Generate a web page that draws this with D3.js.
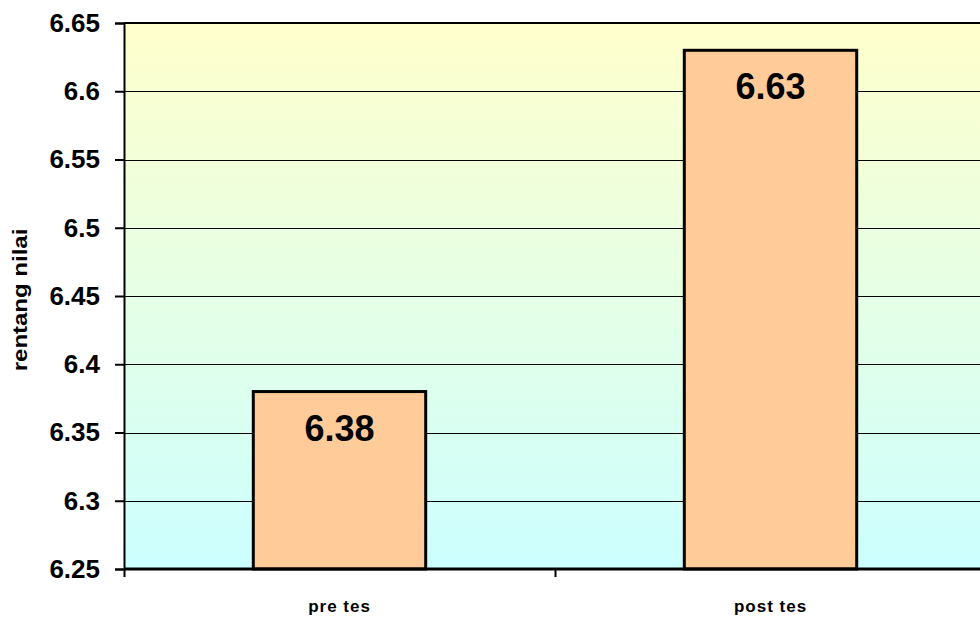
<!DOCTYPE html>
<html>
<head>
<meta charset="utf-8">
<script src="https://cdn.jsdelivr.net/npm/d3@7"></script>
<style>
html,body{margin:0;padding:0;background:#fff;}
svg{display:block;}
text{font-family:Arial,"Liberation Sans",sans-serif;font-weight:bold;fill:#000;}
</style>
</head>
<body>
<svg id="chart" width="980" height="618"></svg>
<script>
const categories = ["pre tes", "post tes"];
const values = [6.38, 6.63];
const valueLabels = ["6.38", "6.63"];
const yTicks = [6.25, 6.3, 6.35, 6.4, 6.45, 6.5, 6.55, 6.6, 6.65];
const yTickLabels = ["6.25", "6.3", "6.35", "6.4", "6.45", "6.5", "6.55", "6.6", "6.65"];
const yTitle = "rentang nilai";

const svg = d3.select("#chart");
const pLeft = 124, pRight = 986, pTop = 23, pBottom = 569;

const x = d3.scaleBand().domain(categories).range([pLeft, pRight]).paddingInner(0.6).paddingOuter(0.3);
const xCat = d3.scaleBand().domain(categories).range([pLeft, pRight]).padding(0);
const y = d3.scaleLinear().domain([6.25, 6.65]).range([pBottom, pTop]);

const defs = svg.append("defs");
const grad = defs.append("linearGradient").attr("id", "bg").attr("x1", 0).attr("y1", 0).attr("x2", 0).attr("y2", 1);
grad.append("stop").attr("offset", "0%").attr("stop-color", "#FFFFCC");
grad.append("stop").attr("offset", "100%").attr("stop-color", "#CCFFFF");

svg.append("rect").attr("x", pLeft).attr("y", pTop).attr("width", pRight - pLeft).attr("height", pBottom - pTop).attr("fill", "url(#bg)");

// gridlines
svg.append("g").selectAll("line").data(yTicks).join("line")
  .attr("x1", pLeft).attr("x2", pRight)
  .attr("y1", d => Math.round(y(d)) + 0.5).attr("y2", d => Math.round(y(d)) + 0.5)
  .attr("stroke", "#000").attr("stroke-width", 1);

// top line slightly heavier
svg.append("line").attr("x1", pLeft).attr("x2", pRight).attr("y1", pTop).attr("y2", pTop).attr("stroke", "#000").attr("stroke-width", 2);

// y axis
const yAxis = d3.axisLeft(y).tickValues(yTicks).tickFormat((d, i) => yTickLabels[i]).tickSize(9).tickPadding(15);
const gy = svg.append("g").attr("transform", `translate(${pLeft},0)`).call(yAxis);
gy.select(".domain").attr("stroke", "#000").attr("stroke-width", 2);
gy.selectAll(".tick line").attr("stroke", "#000").attr("stroke-width", 2);
gy.selectAll(".tick text").style("font-size", "26px").style("font-family", "Arial, 'Liberation Sans', sans-serif").style("font-weight", "bold").attr("fill", "#000");

// bars
svg.append("g").selectAll("rect").data(values).join("rect")
  .attr("x", (d, i) => x(categories[i]))
  .attr("y", d => y(d))
  .attr("width", x.bandwidth())
  .attr("height", d => y(6.25) - y(d))
  .attr("fill", "#FFCC99").attr("stroke", "#000").attr("stroke-width", 3);

// value labels
svg.append("g").selectAll("text").data(values).join("text")
  .attr("x", (d, i) => x(categories[i]) + x.bandwidth() / 2)
  .attr("y", d => y(d) + 49)
  .attr("text-anchor", "middle")
  .style("font-size", "36px")
  .text((d, i) => valueLabels[i]);

// x axis
const gx = svg.append("g").attr("transform", `translate(0,${pBottom})`);
gx.append("line").attr("x1", pLeft).attr("x2", pRight).attr("y1", 0).attr("y2", 0).attr("stroke", "#000").attr("stroke-width", 3);
gx.selectAll("line.tk").data(categories).join("line").attr("class", "tk")
  .attr("x1", d => xCat(d) + 0.5).attr("x2", d => xCat(d) + 0.5).attr("y1", 0).attr("y2", 8)
  .attr("stroke", "#000").attr("stroke-width", 2);
gx.selectAll("text").data(categories).join("text")
  .attr("x", d => xCat(d) + xCat.bandwidth() / 2)
  .attr("y", 43)
  .attr("text-anchor", "middle")
  .style("font-size", "17px")
  .style("letter-spacing", "1px")
  .text(d => d);

// y title
svg.append("text")
  .attr("transform", `translate(27,300) rotate(-90) scale(1.2,1)`)
  .attr("text-anchor", "middle")
  .style("font-size", "20px")
  .text(yTitle);
</script>
</body>
</html>
